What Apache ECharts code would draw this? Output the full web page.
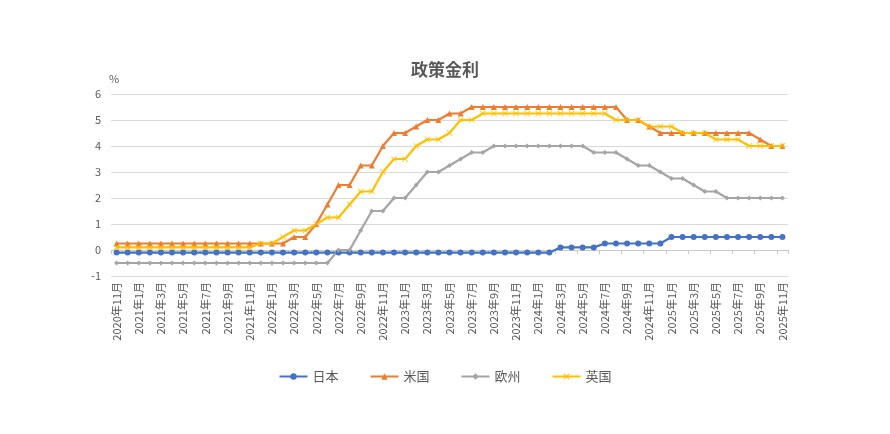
<!DOCTYPE html>
<html>
<head>
<meta charset="utf-8">
<script src="https://cdn.jsdelivr.net/npm/echarts@6/dist/echarts.min.js"></script>
<style>
  html, body { margin: 0; padding: 0; background: #fff; }
  #chart { width: 890px; height: 434px; }
</style>
</head>
<body>
<div id="chart"></div>
<script>
  // 月 (2020年11月 〜 2025年11月)
  var months = [
    '2020年11月', '2020年12月',
    '2021年1月', '2021年2月', '2021年3月', '2021年4月', '2021年5月', '2021年6月',
    '2021年7月', '2021年8月', '2021年9月', '2021年10月', '2021年11月', '2021年12月',
    '2022年1月', '2022年2月', '2022年3月', '2022年4月', '2022年5月', '2022年6月',
    '2022年7月', '2022年8月', '2022年9月', '2022年10月', '2022年11月', '2022年12月',
    '2023年1月', '2023年2月', '2023年3月', '2023年4月', '2023年5月', '2023年6月',
    '2023年7月', '2023年8月', '2023年9月', '2023年10月', '2023年11月', '2023年12月',
    '2024年1月', '2024年2月', '2024年3月', '2024年4月', '2024年5月', '2024年6月',
    '2024年7月', '2024年8月', '2024年9月', '2024年10月', '2024年11月', '2024年12月',
    '2025年1月', '2025年2月', '2025年3月', '2025年4月', '2025年5月', '2025年6月',
    '2025年7月', '2025年8月', '2025年9月', '2025年10月', '2025年11月'
  ];

  var japan = [
    -0.1, -0.1,
    -0.1, -0.1, -0.1, -0.1, -0.1, -0.1, -0.1, -0.1, -0.1, -0.1, -0.1, -0.1,
    -0.1, -0.1, -0.1, -0.1, -0.1, -0.1, -0.1, -0.1, -0.1, -0.1, -0.1, -0.1,
    -0.1, -0.1, -0.1, -0.1, -0.1, -0.1, -0.1, -0.1, -0.1, -0.1, -0.1, -0.1,
    -0.1, -0.1, 0.1, 0.1, 0.1, 0.1, 0.25, 0.25, 0.25, 0.25, 0.25, 0.25,
    0.5, 0.5, 0.5, 0.5, 0.5, 0.5, 0.5, 0.5, 0.5, 0.5, 0.5
  ];

  var usa = [
    0.25, 0.25,
    0.25, 0.25, 0.25, 0.25, 0.25, 0.25, 0.25, 0.25, 0.25, 0.25, 0.25, 0.25,
    0.25, 0.25, 0.5, 0.5, 1.0, 1.75, 2.5, 2.5, 3.25, 3.25, 4.0, 4.5,
    4.5, 4.75, 5.0, 5.0, 5.25, 5.25, 5.5, 5.5, 5.5, 5.5, 5.5, 5.5,
    5.5, 5.5, 5.5, 5.5, 5.5, 5.5, 5.5, 5.5, 5.0, 5.0, 4.75, 4.5,
    4.5, 4.5, 4.5, 4.5, 4.5, 4.5, 4.5, 4.5, 4.25, 4.0, 4.0
  ];

  var europe = [
    -0.5, -0.5,
    -0.5, -0.5, -0.5, -0.5, -0.5, -0.5, -0.5, -0.5, -0.5, -0.5, -0.5, -0.5,
    -0.5, -0.5, -0.5, -0.5, -0.5, -0.5, 0, 0, 0.75, 1.5, 1.5, 2.0,
    2.0, 2.5, 3.0, 3.0, 3.25, 3.5, 3.75, 3.75, 4.0, 4.0, 4.0, 4.0,
    4.0, 4.0, 4.0, 4.0, 4.0, 3.75, 3.75, 3.75, 3.5, 3.25, 3.25, 3.0,
    2.75, 2.75, 2.5, 2.25, 2.25, 2.0, 2.0, 2.0, 2.0, 2.0, 2.0
  ];

  var uk = [
    0.1, 0.1,
    0.1, 0.1, 0.1, 0.1, 0.1, 0.1, 0.1, 0.1, 0.1, 0.1, 0.1, 0.25,
    0.25, 0.5, 0.75, 0.75, 1.0, 1.25, 1.25, 1.75, 2.25, 2.25, 3.0, 3.5,
    3.5, 4.0, 4.25, 4.25, 4.5, 5.0, 5.0, 5.25, 5.25, 5.25, 5.25, 5.25,
    5.25, 5.25, 5.25, 5.25, 5.25, 5.25, 5.25, 5.0, 5.0, 5.0, 4.75, 4.75,
    4.75, 4.5, 4.5, 4.5, 4.25, 4.25, 4.25, 4.0, 4.0, 4.0, 4.0
  ];

  var FONT = '"Noto Sans CJK JP", "Noto Sans", sans-serif';
  var TEXT = '#595959';
  var GRID = '#d9d9d9';

  // ×印マーカー
  var crossSymbol = 'path://M0,1L1,0L5,4L9,0L10,1L6,5L10,9L9,10L5,6L1,10L0,9L4,5Z';

  function lineSeries(name, data, color, symbol, size) {
    return {
      name: name,
      type: 'line',
      xAxisIndex: 0,
      data: data,
      symbol: symbol,
      symbolSize: size,
      showSymbol: true,
      lineStyle: { color: color, width: 2.2 },
      itemStyle: { color: color },
      emphasis: { disabled: true },
      animation: false
    };
  }

  var myChart = echarts.init(document.getElementById('chart'));
  myChart.setOption({
    backgroundColor: '#fff',
    textStyle: { fontFamily: FONT },
    title: {
      text: '政策金利',
      left: 'center',
      top: 56,
      textStyle: { color: TEXT, fontSize: 17, fontWeight: 'bold', fontFamily: FONT }
    },
    legend: {
      bottom: 46,
      left: 'center',
      itemWidth: 28,
      itemHeight: 8,
      itemGap: 31,
      textStyle: { color: TEXT, fontSize: 13, fontFamily: FONT },
      data: ['日本', '米国', '欧州', '英国']
    },
    grid: { left: 111, right: 102, top: 94, bottom: 158, containLabel: false },
    xAxis: [
      {
        type: 'category',
        data: months,
        boundaryGap: true,
        axisLine: { show: false, onZero: false },
        axisTick: { show: false },
        axisLabel: {
          interval: 1,
          rotate: 90,
          color: TEXT,
          fontSize: 11,
          fontFamily: FONT,
          margin: 6
        },
        splitLine: { show: false }
      },
      {
        type: 'category',
        data: months,
        position: 'bottom',
        boundaryGap: true,
        axisLine: { show: true, onZero: true, lineStyle: { color: '#c8c8c8', width: 1 } },
        axisTick: { show: true, interval: 1, length: 4, lineStyle: { color: '#c8c8c8' } },
        axisLabel: { show: false },
        splitLine: { show: false }
      }
    ],
    yAxis: {
      type: 'value',
      min: -1,
      max: 6,
      interval: 1,
      name: '%',
      nameLocation: 'end',
      nameGap: 10,
      nameTextStyle: { color: TEXT, fontSize: 11, align: 'left', padding: [0, 0, 0, -2] },
      axisLine: { show: false },
      axisTick: { show: false },
      axisLabel: { color: TEXT, fontSize: 11, margin: 10 },
      splitLine: { lineStyle: { color: GRID, width: 1 } }
    },
    series: [
      lineSeries('日本', japan, '#4472C4', 'circle', 6),
      lineSeries('米国', usa, '#ED7D31', 'triangle', 6),
      lineSeries('欧州', europe, '#A5A5A5', 'diamond', 5),
      lineSeries('英国', uk, '#FFC000', crossSymbol, 6)
    ]
  });
</script>
</body>
</html>
